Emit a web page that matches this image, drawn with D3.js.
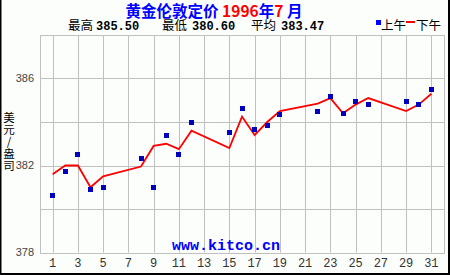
<!DOCTYPE html>
<html><head><meta charset="utf-8">
<script src="https://cdn.jsdelivr.net/npm/d3@7"></script>
<style>body{margin:0;background:#fff}svg{display:block}</style>
</head><body>
<script>
const days = [1,2,3,4,5,8,9,10,11,12,15,16,17,18,19,22,23,24,25,26,29,30,31];
const amPrices = [380.60,381.72,382.50,380.90,381.00,382.30,381.00,383.40,382.50,384.00,383.50,384.60,383.65,383.85,384.35,384.50,385.15,384.40,384.95,384.80,384.95,384.80,385.50];
const pmPrices = [381.60,382.00,382.00,381.00,381.50,381.95,382.90,383.00,382.75,383.60,382.80,384.25,383.40,384.00,384.50,384.85,385.10,384.40,384.80,385.10,384.50,384.80,385.30];
const xTickLabels = [1,3,5,7,9,11,13,15,17,19,21,23,25,27,29,31];
const yTickLabels = [378,382,386];
const yGrid = [380,382,384,386];
const titleParts = [["黄金伦敦定价 ","#0000ff"],["1996","#ff0000"],["年","#0000ff"],["7","#ff0000"],[" 月","#0000ff"]];
const statsLabels = ["最高","最低","平均"];
const statsValues = ["385.50","380.60","383.47"];
const legendLabels = ["上午","下午"];
const yTitle = "美元/盎司";

const W=450,H=275;
const svg=d3.select("body").append("svg").attr("width",W).attr("height",H);
svg.append("rect").attr("width",W).attr("height",H).attr("fill","#fcfefc");

const x=d3.scaleLinear().domain([0,32]).range([40,444]);
const y=d3.scaleLinear().domain([378,388]).range([252.5,35]);
const crisp=v=>Math.round(v)+0.5;
const gridC="#c0c0c0";

svg.append("rect").attr("x",crisp(x(0))).attr("y",crisp(y(388))).attr("width",crisp(x(32))-crisp(x(0))).attr("height",crisp(y(378))-crisp(y(388))).attr("fill","#fcfefc").attr("stroke",gridC).attr("stroke-width",1);

svg.append("g").selectAll("line").data(xTickLabels).join("line")
 .attr("x1",d=>crisp(x(d))).attr("x2",d=>crisp(x(d)))
 .attr("y1",y(388)).attr("y2",y(378)).attr("stroke",gridC);
svg.append("g").selectAll("line").data(yGrid).join("line")
 .attr("y1",d=>crisp(y(d))).attr("y2",d=>crisp(y(d)))
 .attr("x1",x(0)).attr("x2",x(32)).attr("stroke",gridC);

svg.append("g").selectAll("text").data(yTickLabels).join("text")
 .attr("x",34).attr("y",d=>y(d)).attr("dy","0.36em").attr("text-anchor","end")
 .attr("font-family","Liberation Sans, Arial, sans-serif").attr("font-size",11).attr("fill","#444")
 .text(d=>d);
svg.append("g").selectAll("text").data(xTickLabels).join("text")
 .attr("x",d=>x(d)).attr("y",267).attr("text-anchor","middle")
 .attr("font-family","Liberation Mono, monospace").attr("font-size",12).attr("fill","#333")
 .text(d=>d);

svg.append("text").attr("x",226).attr("y",250).attr("text-anchor","middle")
 .attr("font-family","Liberation Mono, monospace").attr("font-weight","bold").attr("font-size",15)
 .attr("fill","#0000ff").text("www.kitco.cn");

const line=d3.line().x((d,i)=>x(days[i])).y(d=>y(d));
svg.append("path").datum(pmPrices).attr("d",line).attr("fill","none").attr("stroke","#ff0000").attr("stroke-width",1.8);

const s=5;
svg.append("g").selectAll("rect").data(amPrices).join("rect")
 .attr("x",(d,i)=>Math.round(x(days[i])-s/2)).attr("y",d=>Math.round(y(d)-s/2))
 .attr("width",s).attr("height",s).attr("fill","#0000c0");

const t=svg.append("text").attr("x",214).attr("y",17).attr("text-anchor","middle")
 .attr("font-family","Noto Sans CJK SC, sans-serif").attr("font-weight","bold").attr("font-size",15.5);
titleParts.forEach(p=>t.append("tspan").attr("fill",p[1]).attr("xml:space","preserve").text(p[0]));

const statX=[68,162,251], valX=[96,192,281];
statsLabels.forEach((l,i)=>{
 svg.append("text").attr("x",statX[i]).attr("y",29.5).attr("font-family","Noto Sans CJK SC, sans-serif")
  .attr("font-size",12.5).attr("fill","#000").text(l);
 svg.append("text").attr("x",valX[i]).attr("y",29.5).attr("font-family","Liberation Mono, monospace")
  .attr("font-weight","bold").attr("font-size",12).attr("fill","#000").text(statsValues[i]);
});

svg.append("rect").attr("x",376).attr("y",20).attr("width",5).attr("height",5).attr("fill","#0000ff");
svg.append("text").attr("x",381).attr("y",29.5).attr("font-family","Noto Sans CJK SC, sans-serif").attr("font-size",12.5).text(legendLabels[0]);
svg.append("rect").attr("x",406).attr("y",21).attr("width",9).attr("height",2).attr("fill","#ff0000");
svg.append("text").attr("x",416).attr("y",29.5).attr("font-family","Noto Sans CJK SC, sans-serif").attr("font-size",12.5).text(legendLabels[1]);

svg.append("text").attr("x",9).attr("y",112)
 .style("writing-mode","vertical-rl").style("text-orientation","upright")
 .attr("letter-spacing",0.5)
 .attr("font-family","Noto Sans CJK SC, sans-serif").attr("font-size",11.5).attr("fill","#000")
 .text(yTitle);

svg.append("rect").attr("x",0).attr("y",0).attr("width",1.5).attr("height",H).attr("fill","#000");
svg.append("rect").attr("x",448).attr("y",0).attr("width",2).attr("height",H).attr("fill","#000");
svg.append("rect").attr("x",0).attr("y",273).attr("width",W).attr("height",2).attr("fill","#000");
</script>
</body></html>
